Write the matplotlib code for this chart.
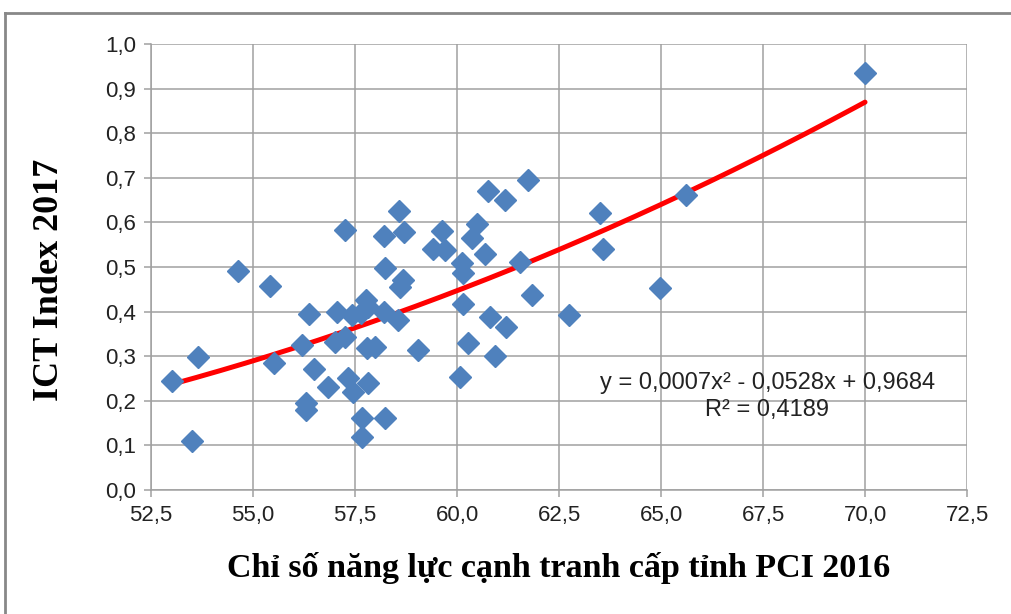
import numpy as np
import matplotlib.pyplot as plt
from matplotlib.lines import Line2D
from matplotlib.ticker import FuncFormatter

# PCI 2016 (x) va ICT Index 2017 (y) cua cac tinh
pci = [53.01, 53.65, 53.50, 54.63, 55.42, 55.51, 56.20, 56.37, 56.30, 56.30,
       56.50, 56.84, 57.06, 57.00, 57.25, 57.26, 57.33, 57.45, 57.43, 57.65,
       57.77, 57.82, 57.80, 58.00, 57.82, 57.67, 57.67, 58.24, 58.20, 58.24,
       58.20, 58.58, 58.70, 58.67, 58.60, 58.55, 59.04, 59.41, 59.63, 59.70,
       60.12, 60.15, 60.15, 60.07, 60.27, 60.37, 60.50, 60.69, 60.76, 60.80,
       60.93, 61.18, 61.20, 61.54, 61.74, 61.84, 62.75, 63.50, 63.58, 64.97,
       65.60, 70.00]
ict = [0.245, 0.298, 0.110, 0.491, 0.457, 0.285, 0.325, 0.395, 0.195, 0.180,
       0.271, 0.231, 0.400, 0.332, 0.343, 0.583, 0.251, 0.220, 0.392, 0.396,
       0.426, 0.410, 0.318, 0.321, 0.240, 0.161, 0.119, 0.161, 0.570, 0.498,
       0.400, 0.626, 0.578, 0.470, 0.455, 0.380, 0.314, 0.540, 0.581, 0.538,
       0.509, 0.486, 0.417, 0.253, 0.330, 0.565, 0.596, 0.529, 0.670, 0.388,
       0.300, 0.650, 0.365, 0.511, 0.695, 0.437, 0.392, 0.621, 0.540, 0.453,
       0.661, 0.935]

xticks = np.arange(52.5, 72.51, 2.5)
yticks = np.arange(0, 1.01, 0.1)

fig = plt.figure(figsize=(10.11, 6.14), dpi=100)
ax = fig.add_axes([0.1494, 0.2020, 0.8071, 0.7264])

x = np.array(pci)
y = np.array(ict)

# duong xu huong bac 2
coef = np.polyfit(x, y, 2)
xs = np.linspace(x.min(), x.max(), 200)
ax.plot(xs, np.polyval(coef, xs), color='#ff0000', lw=3.6, zorder=3,
        solid_capstyle='round')

ax.plot(x, y, linestyle='none', marker='D', ms=11.5, color='#4f81bd',
        mec='#4f81bd', zorder=4, clip_on=False)

ax.set_xlim(52.5, 72.5)
ax.set_ylim(0, 1.0)
ax.set_xticks(xticks)
ax.set_yticks(yticks)
fmt = FuncFormatter(lambda v, p: ('%.1f' % v).replace('.', ','))
ax.xaxis.set_major_formatter(fmt)
ax.yaxis.set_major_formatter(fmt)

ax.grid(True, color='#a0a0a0', lw=1.1)
ax.set_axisbelow(True)
for s in ['top', 'right']:
    ax.spines[s].set_visible(False)
for s in ['left', 'bottom']:
    ax.spines[s].set_color('#a0a0a0')
    ax.spines[s].set_linewidth(1.1)

ax.tick_params(direction='out', length=5, width=1.1, color='#a0a0a0',
               labelsize=16, labelcolor='#222222', pad=6)
for lab in ax.get_xticklabels() + ax.get_yticklabels():
    lab.set_family('Liberation Sans')

ax.set_xlabel('Chỉ số năng lực cạnh tranh cấp tỉnh PCI 2016',
              family='Liberation Serif', weight='bold', fontsize=24.5,
              va='center')
ax.xaxis.set_label_coords(0.5, -0.175)
ax.set_ylabel('ICT Index 2017', family='Liberation Serif', weight='bold',
              fontsize=26, va='center')
ax.yaxis.set_label_coords(-0.124, 0.47)

ax.text(67.6, 0.21, 'y = 0,0007x² - 0,0528x + 0,9684\nR² = 0,4189',
        ha='center', va='center', fontsize=17, family='Liberation Sans',
        linespacing=1.3, color='#222222')

# khung ngoai
fig.add_artist(Line2D([5 / 1011, 5 / 1011], [0, 1 - 13 / 614],
                      transform=fig.transFigure, color='#888888', lw=2))
fig.add_artist(Line2D([5 / 1011, 1], [1 - 13 / 614, 1 - 13 / 614],
                      transform=fig.transFigure, color='#888888', lw=2))

fig.savefig('out.png', dpi=100)
